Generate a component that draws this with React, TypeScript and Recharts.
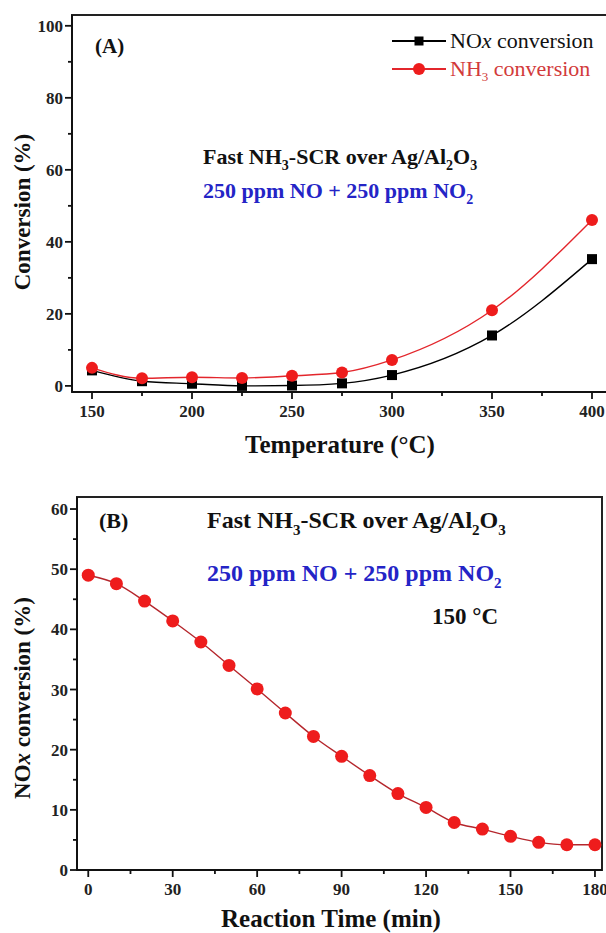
import React from 'react';
import { LineChart, Line, XAxis, YAxis, ReferenceArea, Legend } from 'recharts';

// ---------- Panel A data ----------
const temperatures = [150, 175, 200, 225, 250, 275, 300, 350, 400];
const noxConversion = [4.3, 1.3, 0.6, 0.0, 0.1, 0.7, 3.0, 14.0, 35.2];
const nh3Conversion = [5.0, 2.1, 2.4, 2.2, 2.8, 3.7, 7.2, 21.0, 46.1];
const tempTicks = [150, 175, 200, 225, 250, 275, 300, 325, 350, 375, 400];
const tempMajorTicks = [150, 200, 250, 300, 350, 400];
const convTicksA = [0, 10, 20, 30, 40, 50, 60, 70, 80, 90, 100];
const convMajorTicksA = [0, 20, 40, 60, 80, 100];
const legendOrderA = ['nox', 'nh3'];

// ---------- Panel B data ----------
const reactionTimes = [0, 10, 20, 30, 40, 50, 60, 70, 80, 90, 100, 110, 120, 130, 140, 150, 160, 170, 180];
const noxOverTime = [49.0, 47.6, 44.7, 41.4, 37.9, 34.0, 30.1, 26.1, 22.2, 18.9, 15.7, 12.7, 10.4, 7.9, 6.8, 5.6, 4.6, 4.2, 4.2];
const timeTicks = [0, 15, 30, 45, 60, 75, 90, 105, 120, 135, 150, 165, 180];
const timeMajorTicks = [0, 30, 60, 90, 120, 150, 180];
const convTicksB = [0, 5, 10, 15, 20, 25, 30, 35, 40, 45, 50, 55, 60];
const convMajorTicksB = [0, 10, 20, 30, 40, 50, 60];

const dataA = temperatures.map((t, i) => ({ t, nox: noxConversion[i], nh3: nh3Conversion[i] }));
const dataB = reactionTimes.map((t, i) => ({ t, nox: noxOverTime[i] }));

const SERIF = "'Liberation Serif', 'Times New Roman', serif";
const AXIS = '#111';

const makeXTick = (major: number[]) => (props: any) => {
  const { x, y, payload } = props;
  const isMajor = major.includes(payload.value);
  return (
    <g>
      <line x1={x} x2={x} y1={y} y2={y + (isMajor ? 7 : 4)} stroke={AXIS} strokeWidth={1.8} />
      {isMajor && (
        <text x={x} y={y + 25} textAnchor="middle" fontFamily={SERIF} fontWeight="bold" fontSize={17} fill="#222">
          {payload.value}
        </text>
      )}
    </g>
  );
};

const makeYTick = (major: number[]) => (props: any) => {
  const { x, y, payload } = props;
  const isMajor = major.includes(payload.value);
  return (
    <g>
      <line x1={x} x2={x - (isMajor ? 7 : 4)} y1={y} y2={y} stroke={AXIS} strokeWidth={1.8} />
      {isMajor && (
        <text x={x - 9} y={y + 6} textAnchor="end" fontFamily={SERIF} fontWeight="bold" fontSize={17} fill="#222">
          {payload.value}
        </text>
      )}
    </g>
  );
};

const SquareDot = (props: any) => {
  const { cx, cy, index } = props;
  if (cx == null || cy == null) return <g key={index} />;
  return <rect key={index} x={cx - 5} y={cy - 5} width={10} height={10} fill="#000" />;
};

const renderLegendA = (props: any) => {
  const payload = [...(props.payload || [])].sort(
    (a: any, b: any) => legendOrderA.indexOf(a.dataKey) - legendOrderA.indexOf(b.dataKey)
  );
  return (
    <div>
      {payload.map((entry: any) => {
        const isNh3 = entry.dataKey === 'nh3';
        return (
          <div
            key={entry.dataKey}
            style={{
              display: 'flex',
              alignItems: 'center',
              height: 28,
              fontFamily: SERIF,
              fontSize: 22,
              color: isNh3 ? '#d23a3a' : '#111',
              whiteSpace: 'nowrap',
            }}
          >
            <svg width={54} height={14} style={{ marginRight: 4, flex: 'none' }}>
              <line x1={0} x2={54} y1={7} y2={7} stroke={entry.color} strokeWidth={1.8} />
              {isNh3 ? (
                <circle cx={27} cy={7} r={6} fill="#ee1c1c" />
              ) : (
                <rect x={22.5} y={2.5} width={9} height={9} fill="#000" />
              )}
            </svg>
            {isNh3 ? (
              <span>
                NH<sub style={{ fontSize: 13, verticalAlign: -5, lineHeight: 0 }}>3</sub> conversion
              </span>
            ) : (
              <span>
                NO<i>x</i> conversion
              </span>
            )}
          </div>
        );
      })}
    </div>
  );
};

// Rich text: pieces marked as subscript are lowered
type Piece = [string, boolean];
const RichText = ({ x, y, size, fill, pieces }: { x: number; y: number; size: number; fill: string; pieces: Piece[] }) => {
  const subShift = Math.round(size * 0.28);
  let lowered = false;
  return (
    <text x={x} y={y} fontSize={size} fill={fill}>
      {pieces.map(([s, isSub], i) => {
        let dy = 0;
        if (isSub && !lowered) { dy = subShift; lowered = true; }
        else if (!isSub && lowered) { dy = -subShift; lowered = false; }
        return (
          <tspan key={i} dy={dy || undefined} fontSize={isSub ? Math.round(size * 0.62) : size}>
            {s}
          </tspan>
        );
      })}
    </text>
  );
};

const titleLine: Piece[] = [['Fast NH', false], ['3', true], ['-SCR over Ag/Al', false], ['2', true], ['O', false], ['3', true]];
const feedLine: Piece[] = [['250 ppm NO + 250 ppm NO', false], ['2', true]];
const BLUE = '#2424c6';

export default function App() {
  return (
    <div style={{ position: 'absolute', left: 0, top: 0, width: 606, height: 933, overflow: 'hidden', background: '#fff' }}>
      {/* Panel A */}
      <div style={{ position: 'absolute', left: 0, top: 0 }}>
        <LineChart width={640} height={460} data={dataA} margin={{ top: 15, right: 28, bottom: 28, left: 0 }}>
          <XAxis
            dataKey="t"
            type="number"
            domain={[140, 410]}
            allowDataOverflow
            ticks={tempTicks}
            interval={0}
            height={40}
            tickSize={0}
            tickMargin={0}
            tickLine={false}
            axisLine={{ stroke: AXIS, strokeWidth: 2 }}
            tick={makeXTick(tempMajorTicks)}
          />
          <YAxis
            type="number"
            domain={[-1.7, 103]}
            allowDataOverflow
            ticks={convTicksA}
            interval={0}
            width={72}
            tickSize={0}
            tickMargin={0}
            tickLine={false}
            axisLine={{ stroke: AXIS, strokeWidth: 2 }}
            tick={makeYTick(convMajorTicksA)}
          />
          <ReferenceArea x1={140} x2={410} y1={-1.7} y2={103} fill="none" stroke="#222" strokeWidth={2} />
          <Line
            dataKey="nox"
            name="NOx conversion"
            type="monotone"
            stroke="#000"
            strokeWidth={1.4}
            dot={SquareDot}
            activeDot={false}
            isAnimationActive={false}
          />
          <Line
            dataKey="nh3"
            name="NH3 conversion"
            type="monotone"
            stroke="#e3262c"
            strokeWidth={1.4}
            dot={{ r: 6, fill: '#ee1c1c', stroke: '#ee1c1c', strokeWidth: 0 }}
            activeDot={false}
            isAnimationActive={false}
          />
          <Legend
            layout="horizontal"
            verticalAlign="middle"
            align="center"
            content={renderLegendA}
            wrapperStyle={{ left: 392, top: 27, width: 260, height: 60 }}
          />
        </LineChart>
      </div>

      {/* Panel B */}
      <div style={{ position: 'absolute', left: 0, top: 480 }}>
        <LineChart width={606} height={453} data={dataB} margin={{ top: 17, right: 4, bottom: 23, left: 0 }}>
          <XAxis
            dataKey="t"
            type="number"
            domain={[-4, 182.5]}
            allowDataOverflow
            ticks={timeTicks}
            interval={0}
            height={40}
            tickSize={0}
            tickMargin={0}
            tickLine={false}
            axisLine={{ stroke: AXIS, strokeWidth: 2 }}
            tick={makeXTick(timeMajorTicks)}
          />
          <YAxis
            type="number"
            domain={[0, 62]}
            allowDataOverflow
            ticks={convTicksB}
            interval={0}
            width={77}
            tickSize={0}
            tickMargin={0}
            tickLine={false}
            axisLine={{ stroke: AXIS, strokeWidth: 2 }}
            tick={makeYTick(convMajorTicksB)}
          />
          <ReferenceArea x1={-4} x2={182.5} y1={0} y2={62} fill="none" stroke="#222" strokeWidth={2} />
          <Line
            dataKey="nox"
            name="NOx conversion"
            type="monotone"
            stroke="#b5262c"
            strokeWidth={1.4}
            dot={{ r: 6.5, fill: '#ee1c1c', stroke: '#ee1c1c', strokeWidth: 0 }}
            activeDot={false}
            isAnimationActive={false}
          />
        </LineChart>
      </div>

      {/* Text overlay */}
      <svg width={606} height={933} style={{ position: 'absolute', left: 0, top: 0, pointerEvents: 'none' }}>
        <g fontFamily={SERIF} fontWeight="bold" fill="#111">
          {/* Panel A */}
          <text x={95} y={53} fontSize={21}>(A)</text>
          <RichText x={203} y={164} size={22} fill="#111" pieces={titleLine} />
          <RichText x={203} y={198} size={22} fill={BLUE} pieces={feedLine} />
          <text x={340} y={453} fontSize={25} textAnchor="middle">
            Temperature (°C)
          </text>
          <text x={0} y={0} fontSize={23} textAnchor="middle" transform="translate(30,212) rotate(-90)">
            Conversion (%)
          </text>

          {/* Panel B */}
          <text x={99} y={528} fontSize={22}>(B)</text>
          <RichText x={207} y={528} size={24} fill="#111" pieces={titleLine} />
          <RichText x={207} y={581} size={24} fill={BLUE} pieces={feedLine} />
          <text x={432} y={624} fontSize={23}>150 °C</text>
          <text x={331} y={927} fontSize={25} textAnchor="middle">
            Reaction Time (min)
          </text>
          <text x={0} y={0} fontSize={23} textAnchor="middle" transform="translate(30,698) rotate(-90)">
            NO<tspan fontStyle="italic">x</tspan> conversion (%)
          </text>
        </g>
      </svg>
    </div>
  );
}
